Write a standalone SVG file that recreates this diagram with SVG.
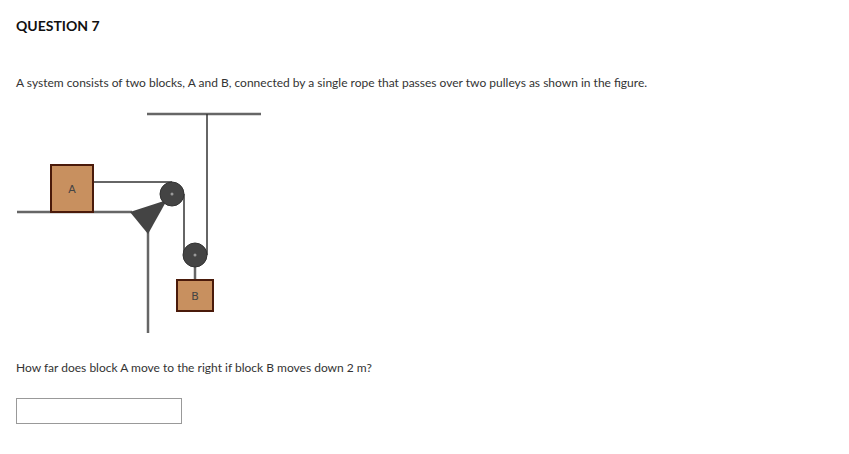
<svg xmlns="http://www.w3.org/2000/svg" width="849" height="454" viewBox="0 0 849 454">
<style>
.t{font-family:Lato,"Open Sans",sans-serif;font-size:12px;fill:#333}
.ln{stroke:#666;stroke-width:2.5;fill:none}
.rope{stroke:#333;stroke-width:1.5;fill:none}
.blk{fill:#c8905f;stroke:#4a1a0a;stroke-width:2}
.pul{fill:#444;stroke:#333;stroke-width:1}
.bl{font-family:"DejaVu Sans",sans-serif;font-size:11px;fill:#444;text-anchor:middle}
</style>
<rect width="849" height="454" fill="#fff"/>
<text x="16" y="31" class="t" style="font-weight:bold;font-size:14px;fill:#111">QUESTION 7</text>
<text x="16" y="87" class="t">A system consists of two blocks, A and B, connected by a single rope that passes over two pulleys as shown in the figure.</text>
<g id="structure">
<line class="ln" x1="147" y1="114" x2="261" y2="114"/>
<line class="ln" x1="17" y1="212" x2="132" y2="212"/>
<line class="ln" x1="148" y1="225" x2="148" y2="333"/>
<polygon points="130,212 167,200 148,234" fill="#444"/>
</g>
<g id="connectors">
<line class="rope" x1="93" y1="182" x2="172" y2="182"/>
<line class="rope" x1="184" y1="194" x2="184" y2="255"/>
<line class="rope" x1="207" y1="114" x2="207" y2="255"/>
<line class="ln" x1="195" y1="262" x2="195" y2="281"/>
</g>
<g id="pulley1"><circle class="pul" cx="172" cy="194" r="12"/><circle cx="172" cy="194" r="1.5" fill="#999"/></g>
<g id="pulley2"><circle class="pul" cx="195" cy="255" r="12"/><circle cx="195" cy="255" r="1.5" fill="#999"/></g>
<g id="blockA"><rect class="blk" x="51" y="165" width="42" height="47"/><text class="bl" x="72" y="193">A</text></g>
<g id="blockB"><rect class="blk" x="177" y="280" width="36" height="31"/><text class="bl" x="195" y="300">B</text></g>
<text x="16" y="372" class="t">How far does block A move to the right if block B moves down 2 m?</text>
<g id="answer"><rect x="16.5" y="398.5" width="165" height="25" fill="#fff" stroke="#999"/></g>
</svg>
